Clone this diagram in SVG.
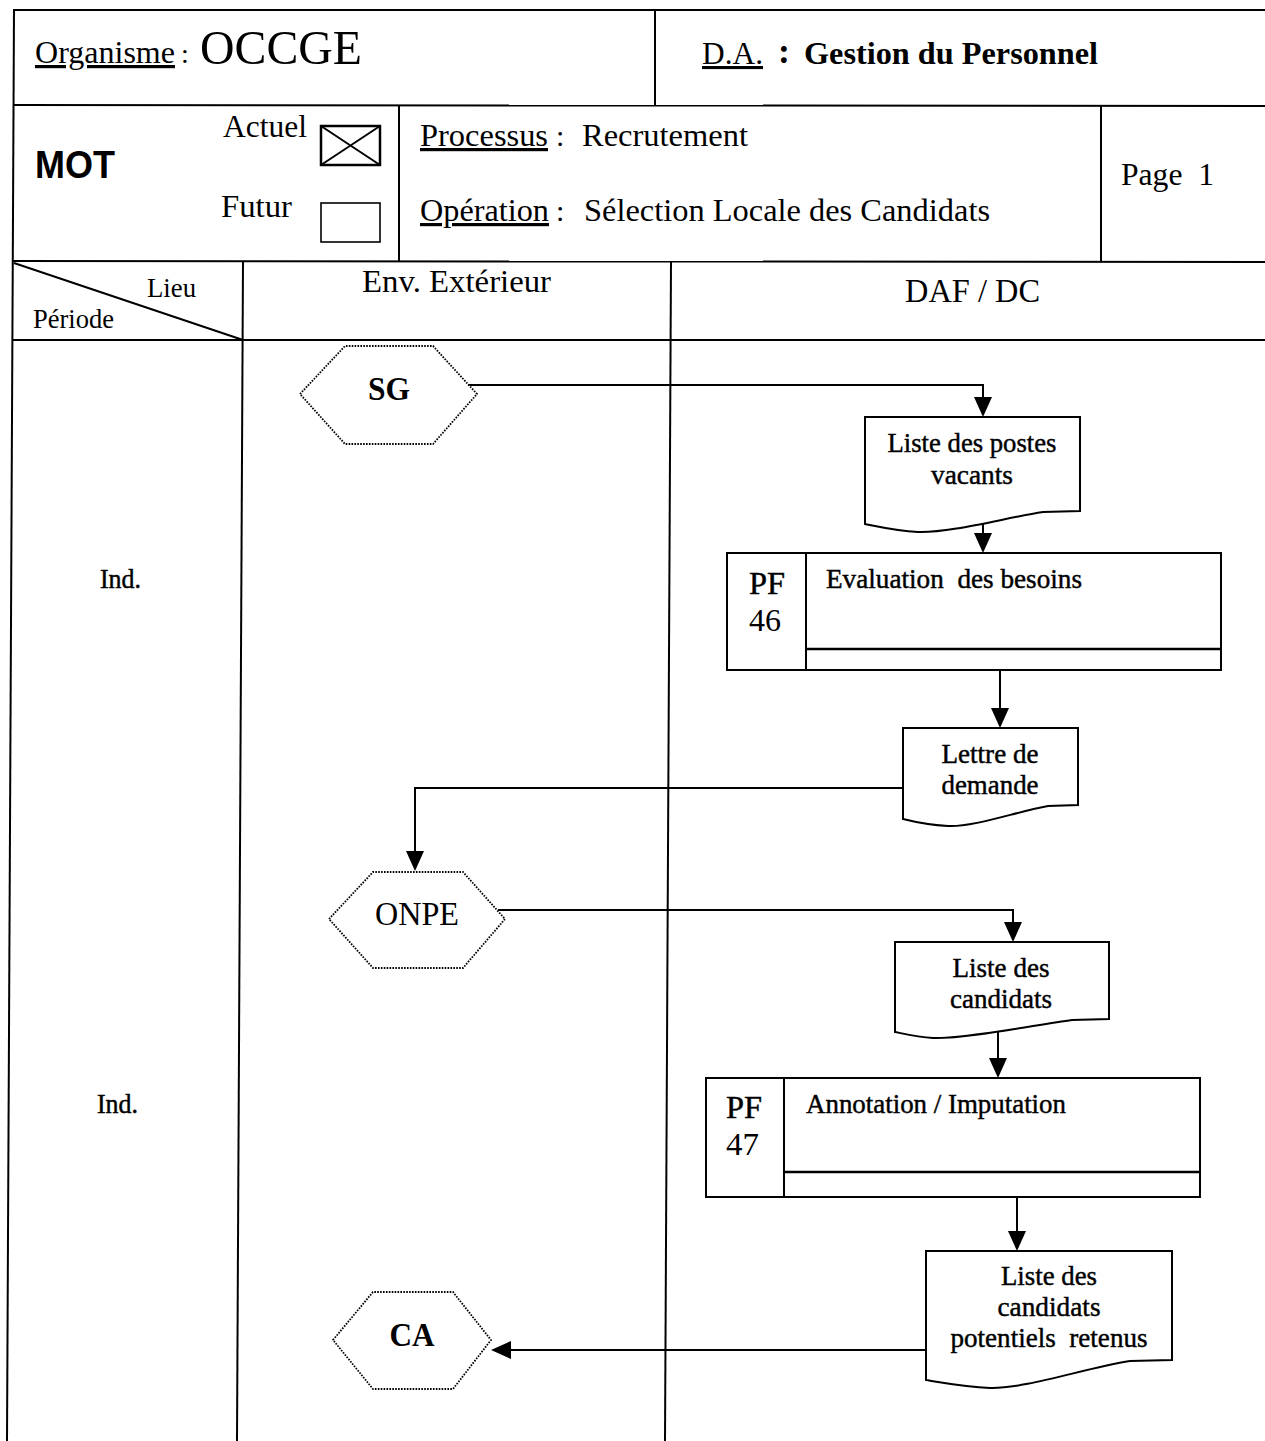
<svg xmlns="http://www.w3.org/2000/svg" width="1265" height="1441" viewBox="0 0 1265 1441">
  <style>
    .t { font-family: "Liberation Serif", "Times New Roman", serif; fill: #000; }
    .b { font-weight: bold; }
    .s { font-family: "Liberation Sans", Arial, sans-serif; font-weight: bold; fill: #000; }
    .ink { stroke: #000; stroke-width: 0.45; }
    .rule { stroke: #000; stroke-width: 2; fill: none; }
    .box { stroke: #000; stroke-width: 2; fill: #fff; }
    .hex { stroke: #000; stroke-width: 1.8; stroke-dasharray: 1.6 1.3; fill: #fff; }
    .conn { stroke: #000; stroke-width: 2; fill: none; marker-end: url(#arr); }
  </style>
  <defs>
    <marker id="arr" markerUnits="userSpaceOnUse" markerWidth="20" markerHeight="18" refX="14" refY="9" orient="auto">
      <path d="M0,0 L20,9 L0,18 Z" fill="#000"/>
    </marker>
  </defs>

  <rect x="0" y="0" width="1265" height="1441" fill="#fff"/>

  <!-- form grid -->
  <g id="grid">
    <line class="rule" x1="13" y1="10" x2="1265" y2="10"/>
    <line class="rule" x1="13" y1="105" x2="1265" y2="106"/>
    <line class="rule" x1="12" y1="261" x2="1265" y2="262"/>
    <line class="rule" x1="12" y1="340" x2="1265" y2="340"/>
    <line class="rule" x1="14" y1="10" x2="7" y2="1441"/>
    <line class="rule" x1="655" y1="10" x2="655" y2="105"/>
    <line class="rule" x1="399" y1="105" x2="399" y2="261"/>
    <line class="rule" x1="1101" y1="106" x2="1101" y2="262"/>
    <line class="rule" x1="243" y1="261" x2="237" y2="1441"/>
    <line class="rule" x1="671" y1="261" x2="665" y2="1441"/>
    <line class="rule" x1="14" y1="263" x2="243" y2="340"/>
  </g>

  <!-- header -->
  <g id="header">
    <text class="t" x="35" y="63" font-size="32" textLength="140" lengthAdjust="spacingAndGlyphs" text-decoration="underline">Organisme</text>
    <text class="t" x="181" y="63" font-size="28">:</text>
    <text class="t" x="200" y="64" font-size="49" textLength="162" lengthAdjust="spacingAndGlyphs">OCCGE</text>
    <text class="t" x="702" y="64" font-size="31" textLength="61" lengthAdjust="spacingAndGlyphs" text-decoration="underline">D.A.</text>
    <text class="t b" x="778" y="63" font-size="36">:</text>
    <text class="t b" x="804" y="64" font-size="32" textLength="294" lengthAdjust="spacingAndGlyphs">Gestion du Personnel</text>

    <text class="s" x="35" y="178" font-size="38" textLength="80" lengthAdjust="spacingAndGlyphs">MOT</text>
    <text class="t" x="223" y="137" font-size="32" textLength="84" lengthAdjust="spacingAndGlyphs">Actuel</text>
    <rect x="321" y="126" width="59" height="39" fill="none" stroke="#000" stroke-width="2.5"/>
    <path d="M321,126 L380,165 M380,126 L321,165" stroke="#000" stroke-width="2" fill="none"/>
    <text class="t" x="221" y="217" font-size="32" textLength="71" lengthAdjust="spacingAndGlyphs">Futur</text>
    <rect x="321" y="203" width="59" height="39" fill="none" stroke="#000" stroke-width="1.6"/>

    <text class="t" x="420" y="146" font-size="32" textLength="128" lengthAdjust="spacingAndGlyphs" text-decoration="underline">Processus</text>
    <text class="t" x="556" y="146" font-size="30">:</text>
    <text class="t" x="582" y="146" font-size="32" textLength="166" lengthAdjust="spacingAndGlyphs">Recrutement</text>
    <text class="t" x="420" y="221" font-size="32" textLength="129" lengthAdjust="spacingAndGlyphs" text-decoration="underline">Opération</text>
    <text class="t" x="556" y="221" font-size="30">:</text>
    <text class="t" x="584" y="221" font-size="32" textLength="406" lengthAdjust="spacingAndGlyphs">Sélection Locale des Candidats</text>
    <text class="t" x="1121" y="185" font-size="32" textLength="93" lengthAdjust="spacingAndGlyphs" xml:space="preserve">Page  1</text>

    <text class="t" x="147" y="297" font-size="28" textLength="49" lengthAdjust="spacingAndGlyphs">Lieu</text>
    <text class="t" x="33" y="328" font-size="28" textLength="81" lengthAdjust="spacingAndGlyphs">Période</text>
    <text class="t" x="362" y="292" font-size="32" textLength="189" lengthAdjust="spacingAndGlyphs">Env. Extérieur</text>
    <text class="t" x="905" y="302" font-size="33" textLength="135" lengthAdjust="spacingAndGlyphs">DAF / DC</text>

    <text class="t ink" x="100" y="588" font-size="27" textLength="41" lengthAdjust="spacingAndGlyphs">Ind.</text>
    <text class="t ink" x="97" y="1113" font-size="27" textLength="41" lengthAdjust="spacingAndGlyphs">Ind.</text>
  </g>

  <!-- connectors -->
  <g id="connectors">
    <path class="conn" d="M467,385 H983 V411"/>
    <path class="conn" d="M983,519 V547"/>
    <path class="conn" d="M1000,670 V722"/>
    <path class="conn" d="M903,788 H415 V865"/>
    <path class="conn" d="M498,910 H1013 V936"/>
    <path class="conn" d="M998,1030 V1072"/>
    <path class="conn" d="M1017,1197 V1245"/>
    <path class="conn" d="M926,1350 H497"/>
  </g>

  <!-- external actors -->
  <g id="sg">
    <polygon class="hex" points="300,394 345,346 433,346 477,394 433,444 345,444"/>
    <text class="t b" x="389" y="400" font-size="33" text-anchor="middle" textLength="42" lengthAdjust="spacingAndGlyphs">SG</text>
  </g>
  <g id="onpe">
    <polygon class="hex" points="329,919 373,872 463,872 505,919 463,968 373,968"/>
    <text class="t" x="417" y="925" font-size="33" text-anchor="middle" textLength="84" lengthAdjust="spacingAndGlyphs">ONPE</text>
  </g>
  <g id="ca">
    <polygon class="hex" points="333,1340 373,1292 453,1292 491,1340 453,1389 373,1389"/>
    <text class="t b" x="412" y="1346" font-size="33" text-anchor="middle" textLength="45" lengthAdjust="spacingAndGlyphs">CA</text>
  </g>

  <!-- documents -->
  <g id="doc-postes">
    <path class="box" d="M865,417 H1080 V511 L1043,512 C1005,518 950,533 918,532 C898,531 880,527 865,524 Z"/>
    <text class="t ink" x="972" y="452" font-size="28" text-anchor="middle" textLength="169" lengthAdjust="spacingAndGlyphs">Liste des postes</text>
    <text class="t ink" x="972" y="484" font-size="28" text-anchor="middle" textLength="82" lengthAdjust="spacingAndGlyphs">vacants</text>
  </g>
  <g id="doc-lettre">
    <path class="box" d="M903,728 H1078 V805 L1048,806 C1015,812 975,827 948,826 C930,825 915,822 903,819 Z"/>
    <text class="t ink" x="990" y="763" font-size="28" text-anchor="middle" textLength="97" lengthAdjust="spacingAndGlyphs">Lettre de</text>
    <text class="t ink" x="990" y="794" font-size="28" text-anchor="middle" textLength="97" lengthAdjust="spacingAndGlyphs">demande</text>
  </g>
  <g id="doc-candidats">
    <path class="box" d="M895,942 H1109 V1019 L1072,1020 C1035,1025 965,1039 933,1038 C918,1037 905,1034 895,1032 Z"/>
    <text class="t ink" x="1001" y="977" font-size="28" text-anchor="middle" textLength="97" lengthAdjust="spacingAndGlyphs">Liste des</text>
    <text class="t ink" x="1001" y="1008" font-size="28" text-anchor="middle" textLength="102" lengthAdjust="spacingAndGlyphs">candidats</text>
  </g>
  <g id="doc-retenus">
    <path class="box" d="M926,1251 H1172 V1360 L1130,1361 C1085,1368 1025,1389 990,1388 C965,1387 945,1383 926,1380 Z"/>
    <text class="t ink" x="1049" y="1285" font-size="28" text-anchor="middle" textLength="96" lengthAdjust="spacingAndGlyphs">Liste des</text>
    <text class="t ink" x="1049" y="1316" font-size="28" text-anchor="middle" textLength="103" lengthAdjust="spacingAndGlyphs">candidats</text>
    <text class="t ink" x="1049" y="1347" font-size="28" text-anchor="middle" textLength="197" lengthAdjust="spacingAndGlyphs" xml:space="preserve">potentiels  retenus</text>
  </g>

  <!-- processing steps -->
  <g id="pf46">
    <rect class="box" x="727" y="553" width="494" height="117"/>
    <line class="rule" x1="806" y1="553" x2="806" y2="670"/>
    <line x1="806" y1="649" x2="1221" y2="649" stroke="#000" stroke-width="2.6"/>
    <text class="t ink" x="749" y="594" font-size="31" textLength="36" lengthAdjust="spacingAndGlyphs">PF</text>
    <text class="t" x="749" y="631" font-size="31" textLength="32" lengthAdjust="spacingAndGlyphs">46</text>
    <text class="t ink" x="826" y="588" font-size="28" textLength="256" lengthAdjust="spacingAndGlyphs" xml:space="preserve">Evaluation  des besoins</text>
  </g>
  <g id="pf47">
    <rect class="box" x="706" y="1078" width="494" height="119"/>
    <line class="rule" x1="784" y1="1078" x2="784" y2="1197"/>
    <line x1="784" y1="1172" x2="1200" y2="1172" stroke="#000" stroke-width="2.6"/>
    <text class="t ink" x="726" y="1118" font-size="31" textLength="36" lengthAdjust="spacingAndGlyphs">PF</text>
    <text class="t" x="726" y="1155" font-size="31" textLength="33" lengthAdjust="spacingAndGlyphs">47</text>
    <text class="t ink" x="806" y="1113" font-size="28" textLength="260" lengthAdjust="spacingAndGlyphs">Annotation / Imputation</text>
  </g>
</svg>
